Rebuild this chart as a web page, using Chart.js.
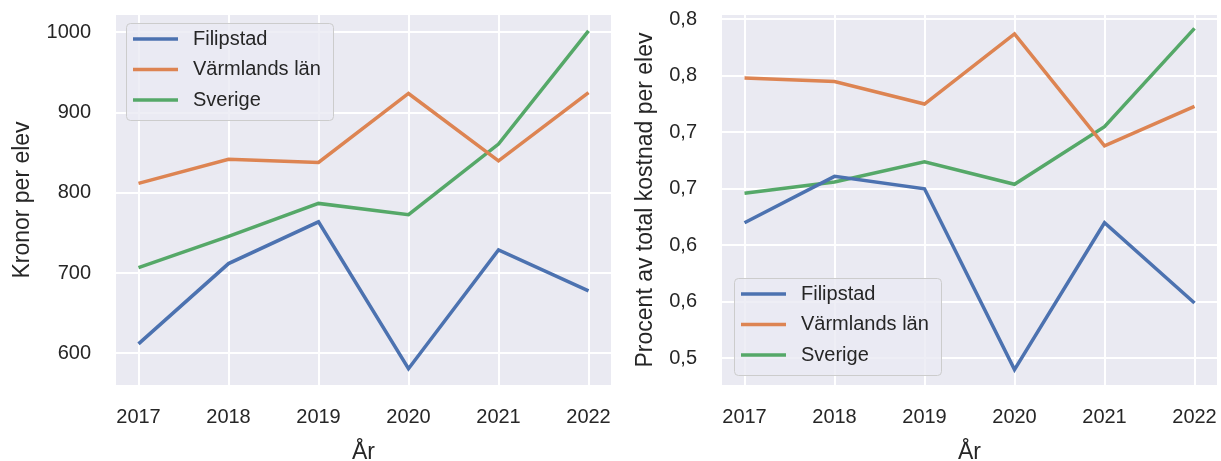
<!DOCTYPE html>
<html lang="sv">
<head>
<meta charset="UTF-8">
<title>Kostnad per elev</title>
<script src="https://cdn.jsdelivr.net/npm/chart.js"></script>
<style>
  html, body { margin: 0; padding: 0; background: #fff; overflow: hidden; }
  #wrap { position: relative; width: 1221px; height: 461px; overflow: hidden; }
  #left { position: absolute; left: 0; top: 0; }
  #right { position: absolute; left: 615px; top: 0; }
</style>
</head>
<body>
<div id="wrap">
  <canvas id="left" width="615" height="466"></canvas>
  <canvas id="right" width="606" height="466"></canvas>
</div>
<script>
// data
const years = [2017, 2018, 2019, 2020, 2021, 2022];
const seriesNames = ['Filipstad', 'Värmlands län', 'Sverige'];

const filipstadKr = [612, 712, 764, 581, 729, 678];
const varmlandKr = [812, 842, 838, 924, 840, 925];
const sverigeKr = [707, 746, 787, 773, 861, 1002];

const filipstadPct = [0.620, 0.661, 0.650, 0.490, 0.620, 0.549];
const varmlandPct = [0.748, 0.745, 0.725, 0.787, 0.688, 0.723];
const sverigePct = [0.646, 0.656, 0.674, 0.654, 0.705, 0.792];

const leftTicks = [600, 700, 800, 900, 1000];
const leftTickLabels = ['600', '700', '800', '900', '1000'];
const rightTicks = [0.50, 0.55, 0.60, 0.65, 0.70, 0.75, 0.80];
const rightTickLabels = ['0,5', '0,6', '0,6', '0,7', '0,7', '0,8', '0,8'];

const colors = ['#4C72B0', '#DD8452', '#55A868'];
const FONT = "'Liberation Sans', Arial, sans-serif";
const TEXT = '#262626';

// grå bakgrund i plotytan
const plotBg = {
  id: 'plotBg',
  beforeDraw(chart) {
    const { ctx, chartArea: a } = chart;
    ctx.save();
    ctx.fillStyle = '#EAEAF2';
    ctx.fillRect(a.left, a.top, a.width, a.height);
    ctx.restore();
  }
};

// legend med ram inne i plotytan
const boxLegend = {
  id: 'boxLegend',
  afterDatasetsDraw(chart, args, opts) {
    const { ctx, chartArea: a } = chart;
    const w = 207, h = 97;
    const x = a.left + opts.dx;
    const y = opts.bottom ? a.bottom - opts.dy - h : a.top + opts.dy;
    ctx.save();
    ctx.beginPath();
    ctx.roundRect(x + 0.5, y + 0.5, w, h, 4);
    ctx.fillStyle = 'rgba(234,234,242,0.8)';
    ctx.fill();
    ctx.strokeStyle = '#CCCCCC';
    ctx.lineWidth = 1;
    ctx.stroke();
    ctx.font = '20px ' + FONT;
    ctx.textBaseline = 'middle';
    chart.data.datasets.forEach((ds, i) => {
      const ry = y + 16 + i * 30.5;
      ctx.beginPath();
      ctx.moveTo(x + 7, ry);
      ctx.lineTo(x + 52, ry);
      ctx.strokeStyle = ds.borderColor;
      ctx.lineWidth = 3.5;
      ctx.stroke();
      ctx.fillStyle = TEXT;
      ctx.fillText(ds.label, x + 67, ry);
    });
    ctx.restore();
  }
};

function noPad(s) {
  s.paddingTop = 0;
  s.paddingBottom = 0;
  s.paddingLeft = 0;
  s.paddingRight = 0;
}

function makeSets(lists) {
  return lists.map((vals, i) => ({
    label: seriesNames[i],
    data: years.map((yr, j) => ({ x: yr, y: vals[j] })),
    borderColor: colors[i],
    backgroundColor: colors[i],
    borderWidth: 3.5,
    pointRadius: 0,
    tension: 0
  }));
}

function makeChart(id, lists, cfg) {
  return new Chart(document.getElementById(id), {
    type: 'line',
    data: { datasets: makeSets(lists) },
    plugins: [plotBg, boxLegend],
    options: {
      responsive: false,
      animation: false,
      devicePixelRatio: 1,
      layout: { padding: { top: 15, right: 4, left: 0, bottom: 0 } },
      plugins: {
        legend: { display: false },
        tooltip: { enabled: false },
        boxLegend: cfg.legend
      },
      scales: {
        x: {
          type: 'linear',
          min: 2016.75,
          max: 2022.25,
          afterFit: s => { s.height = 81; noPad(s); },
          afterBuildTicks: s => { s.ticks = years.map(v => ({ value: v })); },
          grid: { color: '#FFFFFF', lineWidth: 2, drawTicks: false },
          border: { display: false },
          ticks: {
            padding: 20,
            color: TEXT,
            font: { family: FONT, size: 20 },
            maxRotation: 0,
            callback: v => String(v)
          },
          title: {
            display: true,
            text: 'År',
            color: TEXT,
            font: { family: FONT, size: 23 },
            padding: { top: 0, bottom: 0 }
          }
        },
        y: {
          min: cfg.min,
          max: cfg.max,
          afterFit: s => { s.width = cfg.axisWidth; noPad(s); },
          afterBuildTicks: s => { s.ticks = cfg.ticks.map(v => ({ value: v })); },
          grid: { color: '#FFFFFF', lineWidth: 2, drawTicks: false },
          border: { display: false },
          ticks: {
            padding: 25,
            color: TEXT,
            font: { family: FONT, size: 20 },
            callback: (v, i) => cfg.labels[i]
          },
          title: {
            display: true,
            text: cfg.title,
            color: TEXT,
            font: { family: FONT, size: 23 },
            padding: { top: cfg.titlePad, bottom: 0 }
          }
        }
      }
    }
  });
}

makeChart('left', [filipstadKr, varmlandKr, sverigeKr], {
  min: 560.7, max: 1021.8,
  ticks: leftTicks, labels: leftTickLabels,
  axisWidth: 116, title: 'Kronor per elev', titlePad: 9,
  legend: { dx: 10, dy: 8, bottom: false }
});

makeChart('right', [filipstadPct, varmlandPct, sverigePct], {
  min: 0.4764, max: 0.8038,
  ticks: rightTicks, labels: rightTickLabels,
  axisWidth: 107, title: 'Procent av total kostnad per elev', titlePad: 17,
  legend: { dx: 12, dy: 10, bottom: true }
});
</script>
</body>
</html>
